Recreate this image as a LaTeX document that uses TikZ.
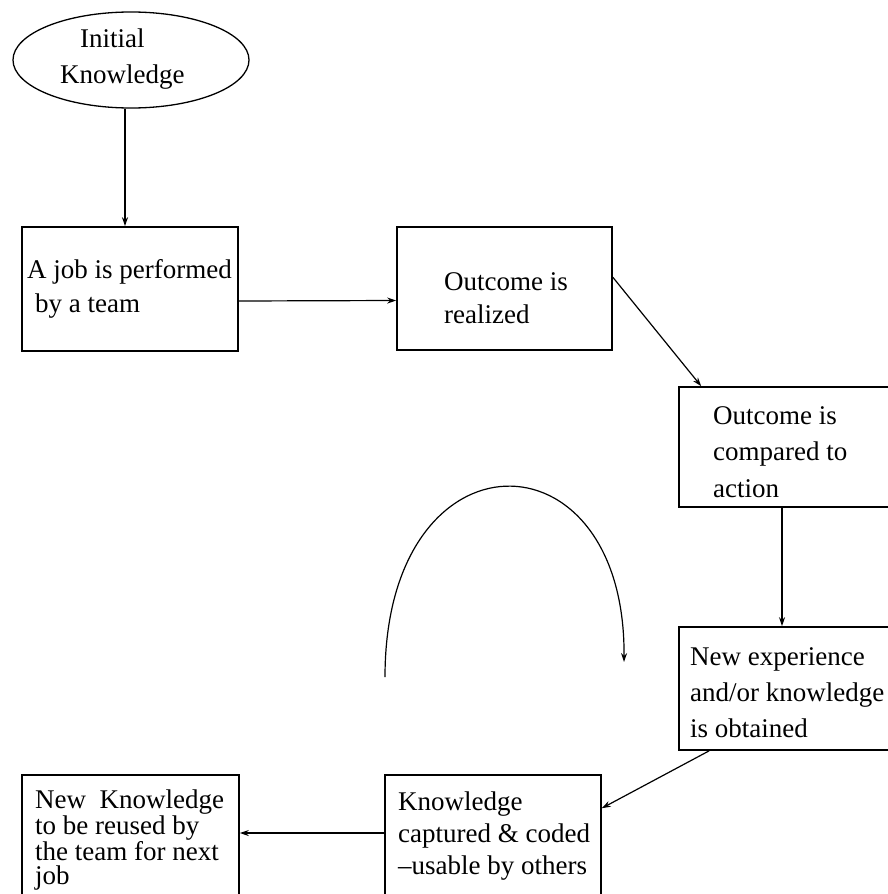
\documentclass[tikz,border=0pt]{standalone}
\usepackage{fontspec}
\setmainfont{Liberation Serif}
\usetikzlibrary{shapes.geometric,arrows.meta}

\newcommand{\txtsize}[1]{\fontsize{27}{#1}\selectfont}

\begin{document}
\begin{tikzpicture}[x=1pt,y=-1pt,
  stepbox/.style={draw, rectangle, inner sep=0pt, line width=1.6pt},
  bubble/.style={draw, ellipse, inner sep=0pt, line width=1.3pt,
    minimum width=236pt, minimum height=96pt},
  txt/.style={align=left, anchor=base west, inner sep=0pt},
  flow/.style={line width=1.2pt, -{Stealth[length=9pt,width=6pt]}}]

\useasboundingbox (0,0) rectangle (888,894);

% shapes
\node[bubble] (ell) at (131,60) {};
\node[stepbox, minimum width=216pt, minimum height=124pt] (b1) at (130,289) {};
\node[stepbox, minimum width=215pt, minimum height=123pt] (b2) at (504.5,288.5) {};
\node[stepbox, minimum width=216pt, minimum height=120pt] (b3) at (787,447) {};
\node[stepbox, minimum width=216pt, minimum height=123pt] (b4) at (787,688.5) {};
\node[stepbox, minimum width=216pt, minimum height=124pt] (b5) at (493,837) {};
\node[stepbox, minimum width=217pt, minimum height=124pt] (b6) at (130.5,837) {};

% texts (each placed at the baseline of its last line)
\node[txt, font=\txtsize{36}] (tell) at (60,83) {\hspace*{20pt}Initial\\Knowledge};
\node[txt, font=\txtsize{34}] (t1) at (27,312) {A job is performed\\\hspace*{8pt}by a team};
\node[txt, font=\txtsize{33}] (t2) at (444,323) {Outcome is\\realized};
\node[txt, font=\txtsize{36.5}] (t3) at (713,497) {Outcome is\\compared to\\action};
\node[txt, font=\txtsize{36}] (t4) at (690,737) {New experience\\and/or knowledge\\is obtained};
\node[txt, font=\txtsize{32}] (t5) at (398,874) {Knowledge\\captured \& coded\\--usable by others};
\node[txt, font=\txtsize{24.5}] (t6) at (35,884.5) {New\ \ Knowledge\\to be reused by\\the team for next\\job};

% connectors
\draw[flow] ([xshift=-6pt]ell.south) -- ([xshift=-5pt]b1.north);
\draw[flow] ([yshift=-12pt]b1.east) -- ([yshift=-12pt]b2.west);
\draw[flow] ([yshift=-51pt]b2.north east) -- ([xshift=23pt]b3.north west);
\draw[flow] ([xshift=-5pt]b3.south) -- ([xshift=-5pt]b4.north);
\draw[flow] ([xshift=31pt]b4.south west) -- ([yshift=-34pt]b5.north east);
\draw[flow] ([yshift=4pt]b5.west) -- ([yshift=4pt]b6.east);

% free-standing curved arrow
\coordinate (arcA) at (385,677);
\coordinate (arcB) at (624,662);
\draw[flow] (arcA) .. controls (385,426) and (626,426) .. (arcB);

\end{tikzpicture}
\end{document}
